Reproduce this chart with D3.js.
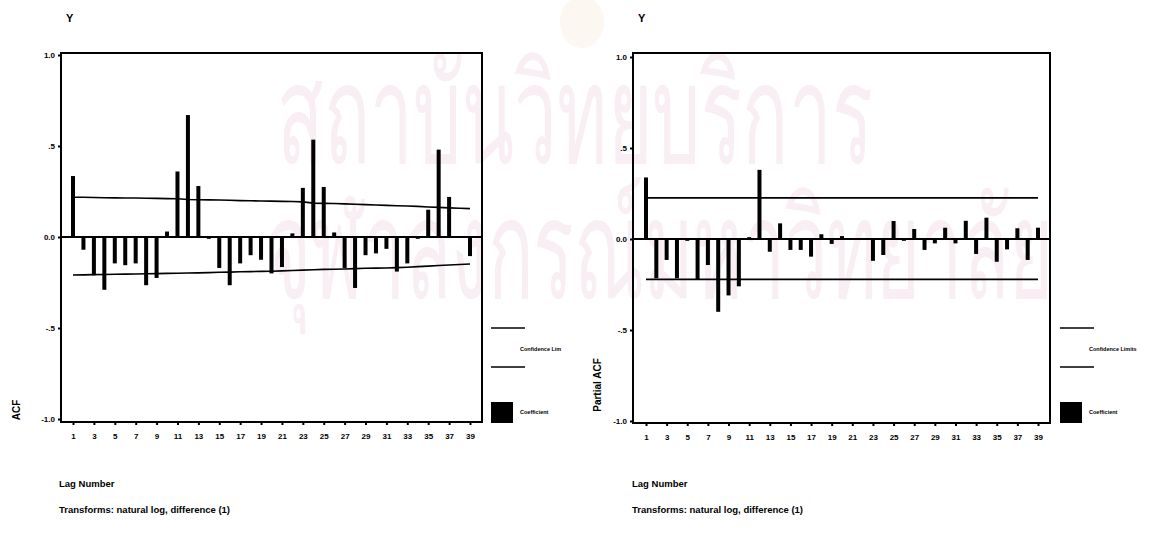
<!DOCTYPE html>
<html>
<head>
<meta charset="utf-8">
<script src="https://cdn.jsdelivr.net/npm/d3@7"></script>
<style>
  body { margin: 0; background: #fff; }
  svg { display: block; font-family: "Liberation Sans", Arial, sans-serif; font-weight: bold; }
</style>
</head>
<body>
<div id="chart"></div>
<script>
// lags 1..39
const lags = d3.range(1, 40);

const acfValues = [
  0.335, -0.07, -0.21, -0.29, -0.145, -0.155, -0.145, -0.265, -0.225, 0.03,
  0.36, 0.67, 0.28, -0.01, -0.17, -0.265, -0.145, -0.10, -0.125, -0.20,
  -0.165, 0.02, 0.27, 0.535, 0.275, 0.025, -0.17, -0.28, -0.10, -0.09,
  -0.065, -0.19, -0.145, -0.01, 0.15, 0.48, 0.22, -0.005, -0.105
];
const acfUpper = [
  0.218, 0.218, 0.217, 0.216, 0.215, 0.214, 0.214, 0.213, 0.212, 0.211,
  0.210, 0.206, 0.205, 0.204, 0.203, 0.202, 0.200, 0.199, 0.198, 0.197,
  0.196, 0.195, 0.193, 0.186, 0.185, 0.184, 0.182, 0.180, 0.178, 0.176,
  0.174, 0.172, 0.170, 0.168, 0.165, 0.163, 0.160, 0.158, 0.156
];
const acfLower = [
  -0.209, -0.208, -0.207, -0.206, -0.205, -0.204, -0.203, -0.202, -0.201, -0.200,
  -0.199, -0.198, -0.197, -0.196, -0.194, -0.193, -0.191, -0.190, -0.189, -0.188,
  -0.186, -0.184, -0.182, -0.180, -0.178, -0.177, -0.176, -0.174, -0.172, -0.171,
  -0.170, -0.168, -0.166, -0.163, -0.160, -0.157, -0.154, -0.151, -0.148
];

const pacfValues = [
  0.338, -0.216, -0.115, -0.216, -0.01, -0.22, -0.143, -0.40, -0.31, -0.26,
  0.01, 0.38, -0.07, 0.086, -0.06, -0.06, -0.097, 0.026, -0.027, 0.016,
  0.005, -0.004, -0.12, -0.088, 0.099, -0.01, 0.055, -0.06, -0.024, 0.062,
  -0.024, 0.10, -0.082, 0.117, -0.125, -0.057, 0.059, -0.115, 0.062
];
const pacfUpper = lags.map(() => 0.226);
const pacfLower = lags.map(() => -0.222);

const yTicks = [1, 0.5, 0, -0.5, -1];
const yTickLabels = ["1.0", ".5", "0.0", "-.5", "-1.0"];
const xTickLags = [1, 3, 5, 7, 9, 11, 13, 15, 17, 19, 21, 23, 25, 27, 29, 31, 33, 35, 37, 39];

const titleText = "Y";
const xTitle = "Lag Number";
const noteText = "Transforms: natural log, difference (1)";
const watermarkLines = ["สถาบันวิทยบริการ", "จุฬาลงกรณ์มหาวิทยาลัย"];

const W = 1167, H = 538;

const svg = d3.select("#chart").append("svg")
  .attr("width", W)
  .attr("height", H)
  .attr("viewBox", `0 0 ${W} ${H}`);

svg.append("rect").attr("width", W).attr("height", H).attr("fill", "#fff");

// faint watermark of the scanned page
const wm = svg.append("g")
  .attr("fill", "#f8eef3")
  .style("font-family", "'Noto Sans', 'DejaVu Sans', sans-serif")
  .style("font-weight", "normal");
wm.append("ellipse")
  .attr("cx", 582).attr("cy", 22).attr("rx", 22).attr("ry", 26)
  .attr("fill", "#fcf8f1");
wm.append("text")
  .attr("transform", "translate(575,163) scale(0.83,1.5)")
  .attr("text-anchor", "middle")
  .attr("font-size", 92)
  .text(watermarkLines[0]);
wm.append("text")
  .attr("transform", "translate(660,298) scale(0.82,1.5)")
  .attr("text-anchor", "middle")
  .attr("font-size", 92)
  .text(watermarkLines[1]);

function drawPanel(cfg) {
  const g = svg.append("g");

  const x = d3.scaleLinear().domain([1, 39]).range(cfg.xRange);
  const y = d3.scaleLinear().domain([-1, 1]).range(cfg.yRange);

  // frame
  g.append("rect")
    .attr("x", cfg.frame[0])
    .attr("y", cfg.frame[1])
    .attr("width", cfg.frame[2] - cfg.frame[0])
    .attr("height", cfg.frame[3] - cfg.frame[1])
    .attr("fill", "none")
    .attr("stroke", "#000")
    .attr("stroke-width", 2);

  // y axis ticks + labels
  const yAxis = d3.axisLeft(y)
    .tickValues(yTicks)
    .tickFormat((d, i) => yTickLabels[i])
    .tickSize(3)
    .tickPadding(3);
  const ya = g.append("g")
    .attr("transform", `translate(${cfg.frame[0]},0)`)
    .call(yAxis);
  ya.select(".domain").remove();
  ya.selectAll(".tick line").attr("stroke-width", 2);
  ya.selectAll(".tick text")
    .attr("font-size", 8)
    .attr("font-family", "Liberation Sans, Arial, sans-serif")
    .attr("font-weight", "bold");

  // x axis ticks + labels
  const xAxis = d3.axisBottom(x)
    .tickValues(xTickLags)
    .tickFormat(d3.format("d"))
    .tickSize(3)
    .tickPadding(8);
  const xa = g.append("g")
    .attr("transform", `translate(0,${cfg.frame[3]})`)
    .call(xAxis);
  xa.select(".domain").remove();
  xa.selectAll(".tick line").attr("stroke-width", 2);
  xa.selectAll(".tick text")
    .attr("font-size", 8)
    .attr("font-family", "Liberation Sans, Arial, sans-serif")
    .attr("font-weight", "bold");

  // zero line
  g.append("line")
    .attr("x1", cfg.frame[0]).attr("x2", cfg.frame[2])
    .attr("y1", y(0)).attr("y2", y(0))
    .attr("stroke", "#000").attr("stroke-width", 2);

  // bars
  g.selectAll(".bar")
    .data(cfg.values)
    .join("rect")
    .attr("class", "bar")
    .attr("x", (d, i) => x(lags[i]) - 2)
    .attr("width", 4)
    .attr("y", d => Math.min(y(d), y(0)))
    .attr("height", d => Math.abs(y(d) - y(0)))
    .attr("fill", "#000");

  // confidence limits
  const line = d3.line()
    .x((d, i) => x(lags[i]))
    .y(d => y(d));
  [cfg.upper, cfg.lower].forEach(arr => {
    g.append("path")
      .datum(arr)
      .attr("d", line)
      .attr("fill", "none")
      .attr("stroke", "#000")
      .attr("stroke-width", 1.6);
  });

  // titles
  g.append("text")
    .attr("x", cfg.frame[0] + 5).attr("y", 22)
    .attr("font-size", 11)
    .text(titleText);

  g.append("text")
    .attr("transform", `translate(${cfg.yLabelX},${cfg.yLabelY}) rotate(-90)`)
    .attr("text-anchor", "middle")
    .attr("font-size", 10)
    .text(cfg.yLabel);

  g.append("text")
    .attr("x", cfg.noteX).attr("y", 487)
    .attr("font-size", 9.5)
    .text(xTitle);

  g.append("text")
    .attr("x", cfg.noteX).attr("y", 513)
    .attr("font-size", 9.5)
    .text(noteText);

  // legend
  const lg = g.append("g").attr("transform", `translate(${cfg.legendX},0)`);
  [328, 367].forEach(yy => {
    lg.append("line")
      .attr("x1", 0).attr("x2", 34)
      .attr("y1", yy).attr("y2", yy)
      .attr("stroke", "#000").attr("stroke-width", 1.6);
  });
  lg.append("text")
    .attr("x", 29).attr("y", 351)
    .attr("font-size", 5.5)
    .text(cfg.limitLabel);
  lg.append("rect")
    .attr("x", 0).attr("y", 402)
    .attr("width", 22).attr("height", 21)
    .attr("fill", "#000");
  lg.append("text")
    .attr("x", 29).attr("y", 414)
    .attr("font-size", 5.5)
    .text("Coefficient");
}

drawPanel({
  values: acfValues,
  upper: acfUpper,
  lower: acfLower,
  xRange: [73, 470],
  yRange: [419, 55],
  frame: [61, 53, 482, 422],
  yLabel: "ACF",
  yLabelX: 20,
  yLabelY: 410,
  noteX: 59,
  legendX: 491,
  limitLabel: "Confidence Lim"
});

drawPanel({
  values: pacfValues,
  upper: pacfUpper,
  lower: pacfLower,
  xRange: [646, 1038],
  yRange: [421, 57],
  frame: [633, 53, 1050, 423],
  yLabel: "Partial ACF",
  yLabelX: 601,
  yLabelY: 385,
  noteX: 632,
  legendX: 1060,
  limitLabel: "Confidence Limits"
});
</script>
</body>
</html>
